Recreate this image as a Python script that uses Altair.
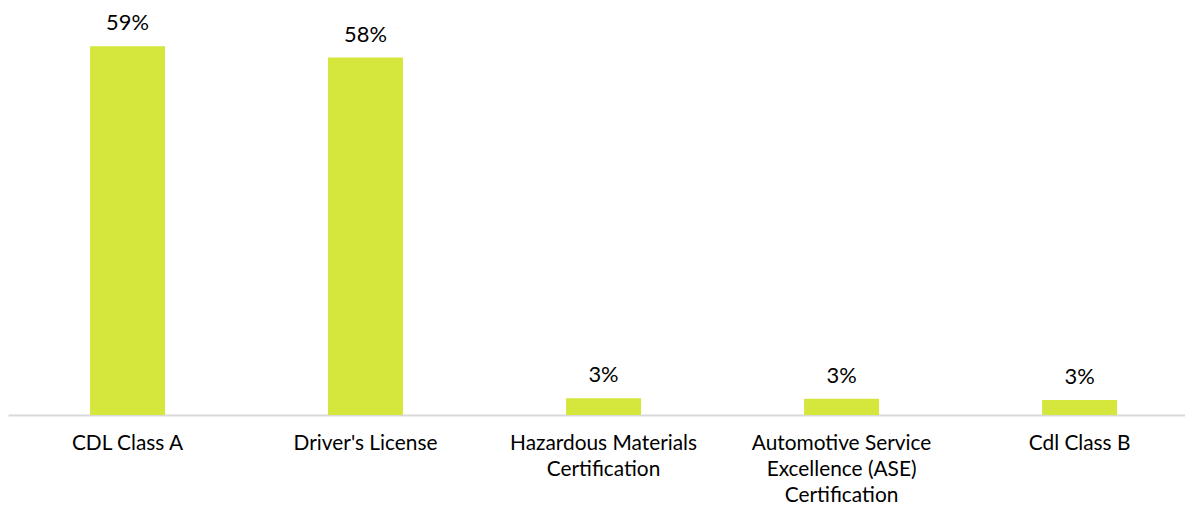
import altair as alt
import pandas as pd

categories = [
    "CDL Class A",
    "Driver's License",
    "Hazardous Materials\nCertification",
    "Automotive Service\nExcellence (ASE)\nCertification",
    "Cdl Class B",
]
values = [59.4, 57.6, 2.7, 2.6, 2.4]
labels = ["59%", "58%", "3%", "3%", "3%"]

df = pd.DataFrame({"cat": categories, "val": values, "lab": labels})

FONT = "Lato"
BAR = "#D5E73D"

x = alt.X(
    "cat:N",
    sort=categories,
    scale=alt.Scale(paddingInner=0.685, paddingOuter=0.315, align=0.547),
    axis=alt.Axis(
        title=None,
        labelAngle=0,
        ticks=False,
        domainColor="#d9d9d9",
        domainWidth=2,
        labelFont=FONT,
        labelFontSize=21,
        labelColor="#000000",
        labelPadding=18,
        labelLineHeight=26,
        labelLimit=400,
        labelBaseline="top",
        labelExpr="split(datum.label, '\\n')",
    ),
)
y = alt.Y(
    "val:Q",
    scale=alt.Scale(domain=[0, 65.3], nice=False),
    axis=None,
)

bars = alt.Chart(df).mark_bar(color=BAR).encode(x=x, y=y)
text = alt.Chart(df).mark_text(
    font=FONT, fontSize=22, color="#000000", baseline="alphabetic", dy=-16
).encode(x=x, y=y, text="lab:N")

chart = (
    alt.layer(bars, text)
    .properties(
        width=1185,
        height=499,
        autosize=alt.AutoSizeParams(type="fit", contains="padding"),
        padding={"left": 0, "top": 0, "right": 0, "bottom": 0},
    )
    .configure_view(stroke=None)
)

chart.save("out.html", embed_options={"renderer": "svg", "actions": False})
